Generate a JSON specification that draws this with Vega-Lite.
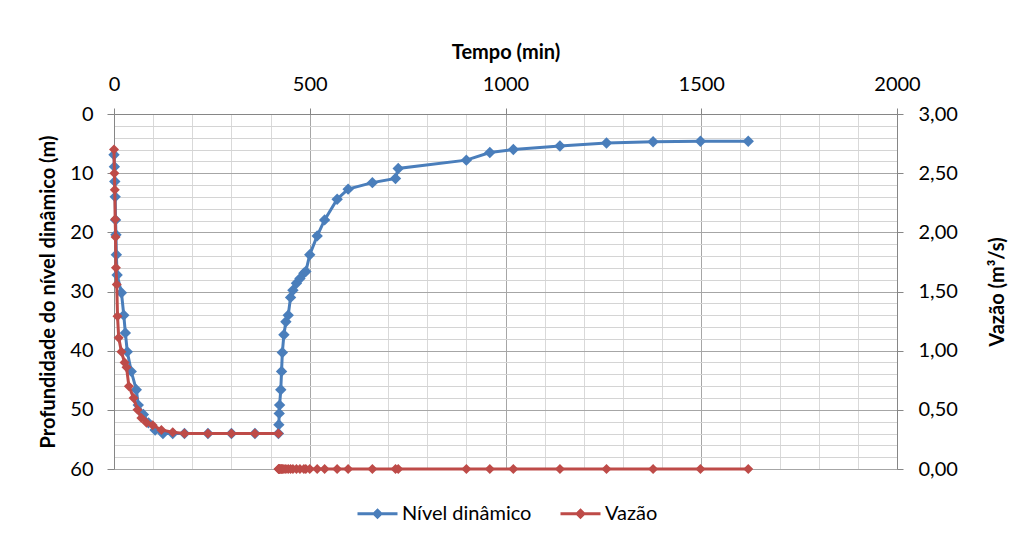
{
  "$schema": "https://vega.github.io/schema/vega-lite/v6.json",
  "width": 783,
  "height": 355,
  "autosize": {"type": "none"},
  "padding": {"left": 114, "top": 114, "right": 115, "bottom": 68},
  "background": "white",
  "config": {
    "font": "Lato",
    "view": {"stroke": null},
    "axis": {
      "labelFont": "Lato", "labelFontSize": 20, "labelColor": "#000000", "labelFlush": false,
      "titleFont": "Lato", "titleFontSize": 20, "titleFontWeight": "bold", "titleColor": "#000000",
      "domainColor": "#868686", "tickColor": "#868686", "gridColor": "#a6a6a6", "gridWidth": 1
    }
  },
  "datasets": {
    "nivel": [
      {"t": 0, "d": 6.9}, {"t": 1, "d": 8.9}, {"t": 2, "d": 11.4}, {"t": 3, "d": 14.0},
      {"t": 4, "d": 17.9}, {"t": 5, "d": 20.4}, {"t": 6, "d": 23.8}, {"t": 8, "d": 27.2},
      {"t": 19, "d": 30.2}, {"t": 25, "d": 34.0}, {"t": 29, "d": 37.0}, {"t": 34, "d": 40.2},
      {"t": 44, "d": 43.5}, {"t": 57, "d": 46.6}, {"t": 62, "d": 49.2}, {"t": 75, "d": 50.8},
      {"t": 88, "d": 52.2}, {"t": 105, "d": 53.4}, {"t": 125, "d": 54.0}, {"t": 150, "d": 54.0},
      {"t": 180, "d": 54.0}, {"t": 240, "d": 54.0}, {"t": 300, "d": 54.0}, {"t": 360, "d": 54.0},
      {"t": 420, "d": 54.0}, {"t": 421, "d": 52.5}, {"t": 422, "d": 50.6}, {"t": 423, "d": 49.2},
      {"t": 426, "d": 46.6}, {"t": 428, "d": 43.5}, {"t": 430, "d": 40.3}, {"t": 434, "d": 37.3},
      {"t": 439, "d": 35.1}, {"t": 445, "d": 34.0}, {"t": 451, "d": 31.0}, {"t": 457, "d": 29.8},
      {"t": 466, "d": 28.6}, {"t": 475, "d": 27.8}, {"t": 485, "d": 26.9}, {"t": 490, "d": 26.6},
      {"t": 500, "d": 23.8}, {"t": 519, "d": 20.6}, {"t": 538, "d": 17.9}, {"t": 570, "d": 14.4},
      {"t": 598, "d": 12.7}, {"t": 660, "d": 11.6}, {"t": 719, "d": 10.9}, {"t": 726, "d": 9.2},
      {"t": 900, "d": 7.8}, {"t": 960, "d": 6.5}, {"t": 1020, "d": 6.0}, {"t": 1139, "d": 5.4},
      {"t": 1258, "d": 4.9}, {"t": 1377, "d": 4.7}, {"t": 1498, "d": 4.6}, {"t": 1620, "d": 4.6}
    ],
    "vazao": [
      {"t": 0, "v": 2.70, "fase": "bombeamento"}, {"t": 1, "v": 2.50, "fase": "bombeamento"},
      {"t": 2, "v": 2.36, "fase": "bombeamento"}, {"t": 3, "v": 2.11, "fase": "bombeamento"},
      {"t": 4, "v": 1.96, "fase": "bombeamento"}, {"t": 5, "v": 1.70, "fase": "bombeamento"},
      {"t": 7, "v": 1.56, "fase": "bombeamento"}, {"t": 9, "v": 1.29, "fase": "bombeamento"},
      {"t": 12, "v": 1.11, "fase": "bombeamento"}, {"t": 19, "v": 0.99, "fase": "bombeamento"},
      {"t": 27, "v": 0.90, "fase": "bombeamento"}, {"t": 32, "v": 0.86, "fase": "bombeamento"},
      {"t": 38, "v": 0.70, "fase": "bombeamento"}, {"t": 50, "v": 0.60, "fase": "bombeamento"},
      {"t": 60, "v": 0.50, "fase": "bombeamento"}, {"t": 70, "v": 0.43, "fase": "bombeamento"},
      {"t": 83, "v": 0.39, "fase": "bombeamento"}, {"t": 99, "v": 0.37, "fase": "bombeamento"},
      {"t": 121, "v": 0.33, "fase": "bombeamento"}, {"t": 150, "v": 0.31, "fase": "bombeamento"},
      {"t": 180, "v": 0.30, "fase": "bombeamento"}, {"t": 240, "v": 0.30, "fase": "bombeamento"},
      {"t": 300, "v": 0.30, "fase": "bombeamento"}, {"t": 360, "v": 0.30, "fase": "bombeamento"},
      {"t": 420, "v": 0.30, "fase": "bombeamento"},
      {"t": 420, "v": 0, "fase": "recuperacao"}, {"t": 421, "v": 0, "fase": "recuperacao"},
      {"t": 422, "v": 0, "fase": "recuperacao"}, {"t": 423, "v": 0, "fase": "recuperacao"},
      {"t": 426, "v": 0, "fase": "recuperacao"}, {"t": 428, "v": 0, "fase": "recuperacao"},
      {"t": 430, "v": 0, "fase": "recuperacao"}, {"t": 434, "v": 0, "fase": "recuperacao"},
      {"t": 439, "v": 0, "fase": "recuperacao"}, {"t": 445, "v": 0, "fase": "recuperacao"},
      {"t": 451, "v": 0, "fase": "recuperacao"}, {"t": 457, "v": 0, "fase": "recuperacao"},
      {"t": 466, "v": 0, "fase": "recuperacao"}, {"t": 475, "v": 0, "fase": "recuperacao"},
      {"t": 485, "v": 0, "fase": "recuperacao"}, {"t": 490, "v": 0, "fase": "recuperacao"},
      {"t": 500, "v": 0, "fase": "recuperacao"}, {"t": 519, "v": 0, "fase": "recuperacao"},
      {"t": 538, "v": 0, "fase": "recuperacao"}, {"t": 570, "v": 0, "fase": "recuperacao"},
      {"t": 598, "v": 0, "fase": "recuperacao"}, {"t": 660, "v": 0, "fase": "recuperacao"},
      {"t": 719, "v": 0, "fase": "recuperacao"}, {"t": 726, "v": 0, "fase": "recuperacao"},
      {"t": 900, "v": 0, "fase": "recuperacao"}, {"t": 960, "v": 0, "fase": "recuperacao"},
      {"t": 1020, "v": 0, "fase": "recuperacao"}, {"t": 1139, "v": 0, "fase": "recuperacao"},
      {"t": 1258, "v": 0, "fase": "recuperacao"}, {"t": 1377, "v": 0, "fase": "recuperacao"},
      {"t": 1498, "v": 0, "fase": "recuperacao"}, {"t": 1620, "v": 0, "fase": "recuperacao"}
    ]
  },
  "layer": [
    {
      "data": {"name": "nivel"},
      "mark": {"type": "point", "opacity": 0},
      "encoding": {
        "x": {
          "field": "t", "type": "quantitative",
          "scale": {"domain": [0, 2000], "nice": false},
          "axis": {
            "orient": "bottom", "values": [100, 200, 300, 400, 600, 700, 800, 900, 1100, 1200, 1300, 1400, 1600, 1700, 1800, 1900],
            "grid": true, "gridColor": "#d9d9d9", "labels": false, "ticks": false, "domain": false,
            "title": null, "maxExtent": 0, "minExtent": 0
          }
        },
        "y": {
          "field": "d", "type": "quantitative",
          "scale": {"domain": [0, 60], "reverse": true, "nice": false},
          "axis": {
            "orient": "left", "values": [2, 4, 6, 8, 12, 14, 16, 18, 22, 24, 26, 28, 32, 34, 36, 38, 42, 44, 46, 48, 52, 54, 56, 58],
            "grid": true, "gridColor": "#d4d4d4", "labels": false, "ticks": false, "domain": false,
            "title": null, "maxExtent": 0, "minExtent": 0
          }
        }
      }
    },
    {
      "data": {"name": "nivel"},
      "mark": {"type": "line", "strokeWidth": 3, "point": {"shape": "diamond", "size": 130, "filled": true, "opacity": 1}},
      "encoding": {
        "x": {
          "field": "t", "type": "quantitative",
          "scale": {"domain": [0, 2000], "nice": false},
          "axis": {
            "orient": "top", "values": [0, 500, 1000, 1500, 2000], "format": "d",
            "grid": true, "tickSize": 6, "labelPadding": 14, "title": "Tempo (min)", "titlePadding": 12
          }
        },
        "y": {
          "field": "d", "type": "quantitative",
          "scale": {"domain": [0, 60], "reverse": true, "nice": false},
          "axis": {
            "orient": "left", "values": [0, 10, 20, 30, 40, 50, 60],
            "grid": true, "tickSize": 7, "labelPadding": 14,
            "title": "Profundidade  do nível dinâmico (m)", "titlePadding": 11
          }
        },
        "color": {
          "datum": "Nível dinâmico", "type": "nominal",
          "scale": {"domain": ["Nível dinâmico", "Vazão"], "range": ["#4A7EBB", "#BE4B48"]},
          "legend": {
            "orient": "none", "legendX": 242, "legendY": 378, "direction": "horizontal", "title": null,
            "symbolType": "M-1,0L1,0M0,-0.17L0.17,0L0,0.17L-0.17,0Z", "symbolSize": 1600,
            "symbolStrokeWidth": 3, "labelFontSize": 20, "labelFont": "Lato", "labelColor": "#000000",
            "columnPadding": 22, "labelOffset": 3
          }
        }
      }
    },
    {
      "data": {"name": "vazao"},
      "mark": {"type": "line", "strokeWidth": 3, "point": {"shape": "diamond", "size": 100, "filled": true, "opacity": 1}},
      "encoding": {
        "x": {"field": "t", "type": "quantitative", "scale": {"domain": [0, 2000], "nice": false}, "axis": null},
        "y": {
          "field": "v", "type": "quantitative",
          "scale": {"domain": [0, 3], "nice": false},
          "axis": {
            "orient": "right", "values": [0, 0.5, 1, 1.5, 2, 2.5, 3],
            "labelExpr": "replace(format(datum.value, '.2f'), '.', ',')",
            "grid": false, "tickSize": 6, "labelPadding": 15,
            "title": "Vazão (m³/s)", "titleAngle": 270, "titleBaseline": "top", "titlePadding": 30
          }
        },
        "detail": {"field": "fase", "type": "nominal"},
        "color": {
          "datum": "Vazão", "type": "nominal",
          "scale": {"domain": ["Nível dinâmico", "Vazão"], "range": ["#4A7EBB", "#BE4B48"]}
        }
      }
    }
  ],
  "resolve": {"scale": {"y": "independent"}, "axis": {"x": "independent", "y": "independent"}}
}
